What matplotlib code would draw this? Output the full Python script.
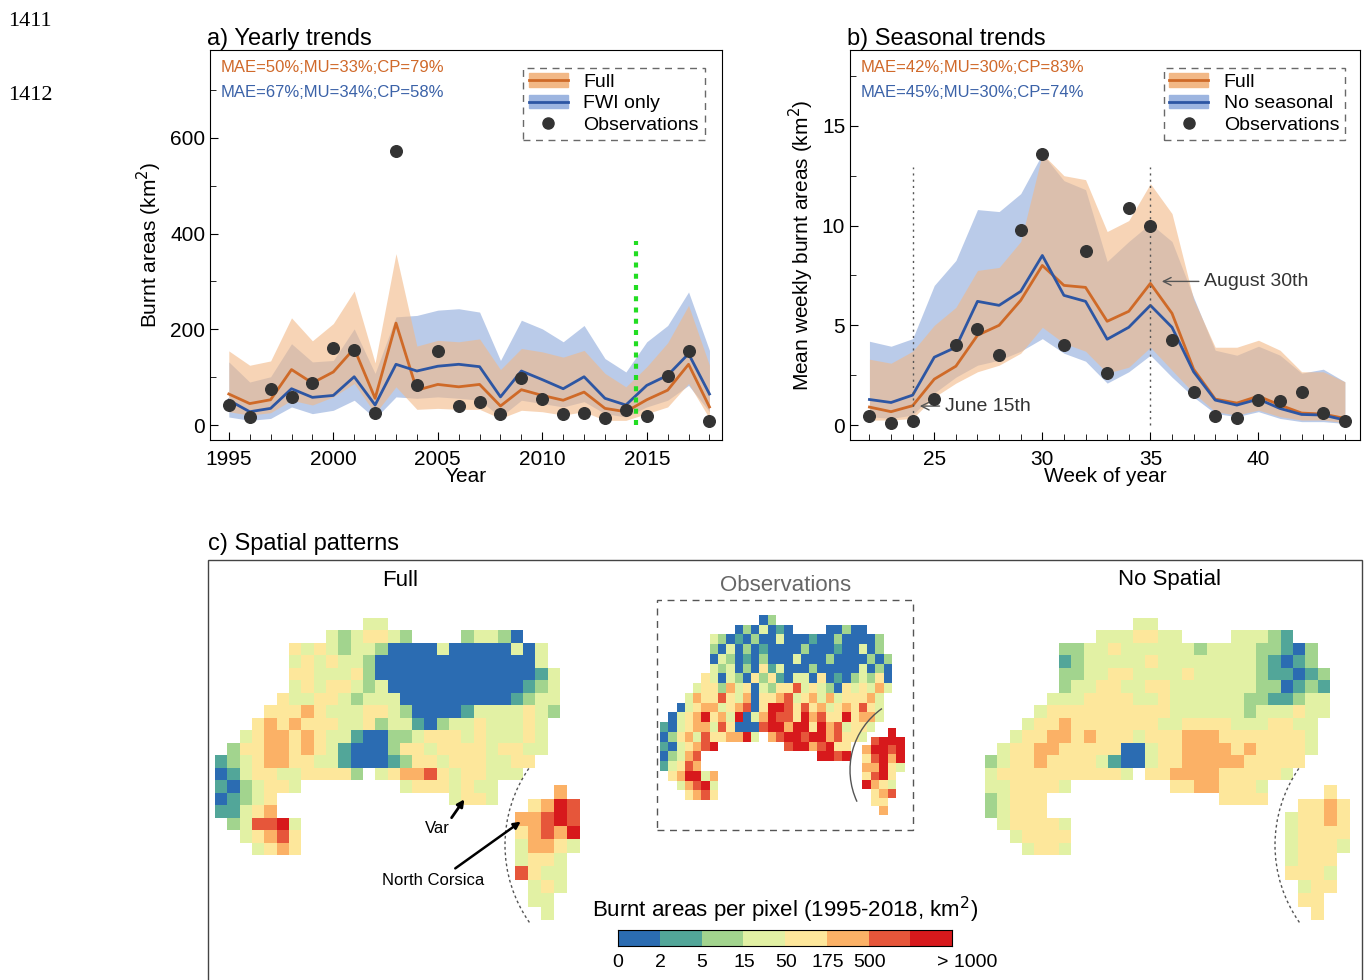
import numpy as np
import matplotlib
matplotlib.use("Agg")
import matplotlib.pyplot as plt
from matplotlib.patches import Patch, Rectangle, Arc
from matplotlib.lines import Line2D
from matplotlib.colors import ListedColormap, BoundaryNorm

# ---------------- data ----------------
years = list(range(1995, 2019))
obs_year = [42, 17, 75, 58, 88, 160, 156, 25, 573, 83, 154, 40, 48, 23, 98, 54, 23, 25, 15, 31, 19, 102, 154, 8]
full_year = [65, 45, 53, 116, 88, 111, 160, 56, 213, 73, 85, 80, 85, 40, 74, 62, 52, 69, 35, 28, 53, 73, 127, 38]
full_year_hi = [155, 125, 134, 224, 176, 212, 280, 130, 358, 165, 177, 174, 180, 116, 160, 153, 142, 156, 108, 80, 122, 172, 250, 125]
full_year_lo = [28, 21, 26, 52, 42, 59, 87, 24, 80, 33, 35, 33, 33, 14, 31, 28, 21, 28, 10, 10, 24, 38, 87, 14]
fwi_year = [52, 28, 35, 76, 58, 62, 101, 42, 127, 113, 123, 127, 122, 59, 113, 95, 76, 101, 56, 42, 83, 104, 149, 65]
fwi_year_hi = [132, 90, 101, 170, 132, 135, 201, 108, 226, 229, 240, 243, 236, 135, 219, 201, 174, 208, 139, 111, 174, 208, 278, 156]
fwi_year_lo = [17, 10, 14, 38, 24, 31, 52, 14, 59, 56, 59, 56, 52, 17, 52, 45, 38, 49, 24, 17, 38, 52, 83, 28]

weeks = list(range(22, 45))
obs_week = [0.47, 0.1, 0.2, 1.3, 4.0, 4.8, 3.5, 9.8, 13.6, 4.0, 8.7, 2.6, 10.9, 10.0, 4.25, 1.67, 0.47, 0.37, 1.25, 1.2, 1.67, 0.6, 0.2]
full_week = [0.9, 0.67, 0.97, 2.3, 2.95, 4.5, 5.0, 6.25, 8.0, 7.0, 6.9, 5.2, 5.7, 7.1, 5.6, 2.8, 1.3, 1.1, 1.45, 1.0, 0.6, 0.55, 0.33]
full_week_hi = [3.3, 3.1, 3.7, 5.0, 5.9, 7.75, 7.9, 9.2, 13.6, 12.5, 12.3, 9.7, 10.25, 12.1, 10.6, 6.3, 3.9, 3.9, 4.25, 3.75, 2.67, 2.67, 2.17]
full_week_lo = [0.25, 0.25, 0.33, 1.4, 2.1, 2.67, 3.0, 3.6, 4.9, 4.1, 3.7, 2.6, 2.9, 3.9, 2.75, 1.6, 0.67, 0.5, 0.75, 0.42, 0.25, 0.25, 0.12]
noseas_week = [1.28, 1.13, 1.5, 3.4, 3.9, 6.2, 6.0, 6.7, 8.5, 6.5, 6.2, 4.3, 4.9, 6.0, 4.9, 2.67, 1.25, 1.0, 1.3, 0.83, 0.53, 0.5, 0.25]
noseas_week_hi = [4.2, 3.95, 4.33, 7.0, 8.25, 10.8, 10.7, 11.6, 13.6, 12.25, 11.8, 8.2, 9.2, 10.1, 9.2, 6.4, 3.75, 3.5, 3.95, 3.5, 2.6, 2.8, 2.17]
noseas_week_lo = [0.42, 0.33, 0.5, 1.6, 2.4, 3.0, 3.25, 3.7, 4.33, 3.6, 3.2, 2.1, 2.67, 3.5, 2.4, 1.4, 0.58, 0.42, 0.67, 0.33, 0.17, 0.17, 0.08]

class_labels = ["0", "2", "5", "15", "50", "175", "500", "> 1000"]
class_colors = ["#2b6cb2", "#52a699", "#a2d48e", "#e2f1a4", "#fde79b", "#fbb166", "#e6563a", "#d7191c"]

map_full = [
    "............33",
    ".........3234432....23320",
    "......434323320000300000303",
    "......343433200000000000003",
    "......4433342000000000000013",
    "......3434432300000000000123",
    ".....43344323330000000001233",
    "....444543334432000013333432",
    "...454544433423310233433343",
    "..3455454331002234443433343",
    ".24455454310002443444434433",
    "12345544331000124434443344",
    "013443344442.345564344333",
    "1023443........34443433",
    "01234..............3443",
    "11345",
    ".236673",
    "..34564",
    "...3454",
]
cors_full = ["...5.", ".4576", "55676", "45657", "35543", "3443.", "6433.", ".343.", ".33..", "..3.."]

map_obs = [
    "............02",
    ".........0203010....00200",
    "......320102003000100200002",
    "......203020100002000100302",
    "......0320102000300020000202",
    "......3230204130002000003020",
    ".....43032042410330401023240",
    "....344253403244634320434353",
    "...354464350445634535344453",
    "..0345534560477646453454643",
    ".03457453703576647564474553",
    "10345536400067757747563443",
    "024536445573.567767756443",
    "1034567........67756744",
    "02356..............7767",
    "13465",
    ".457735",
    "..35673",
    "...4564",
]
cors_obs = ["...7.", ".6777", "57767", "46757", "55743", "4674.", "7543.", ".456.", ".44..", "..5.."]

map_nosp = [
    "............33",
    ".........3334433....33321",
    "......223343333332333322102",
    "......123333343333333321012",
    "......2233443333433333211012",
    "......2334433443333333220121",
    ".....33344443343333332211233",
    "....344444444443333332333433",
    "...344544444443344443334433",
    "..3445545444344455544444443",
    ".34455444440034455554544443",
    "23445444431003445555544444",
    "344444444443.445555444443",
    "3344443........44554443",
    "23444..............4444",
    "23444",
    ".344443",
    "..34444",
    "...3443",
]
cors_nosp = ["...4.", ".4454", "34454", "34444", "34443", "3444.", "4443.", ".344.", ".44..", "..4.."]

# ---------------- figure ----------------
W, H = 1367, 980
fig = plt.figure(figsize=(W / 100, H / 100), dpi=100)
plt.rcParams['font.family'] = ['Liberation Sans', 'DejaVu Sans']

def ax_px(x0, y0, x1, y1):
    return fig.add_axes([x0 / W, 1 - y1 / H, (x1 - x0) / W, (y1 - y0) / H])

ORL = "#cf6a28"; BLL = "#2d56a3"
ORF = "#f2b886"; BLF = "#9db5e0"
tcol_o = "#d0692a"; tcol_b = "#3b62a8"

fig.text(8 / W, 1 - 22 / H, "1411", fontsize=16, family="Liberation Serif", va="center")
fig.text(8 / W, 1 - 95 / H, "1412", fontsize=16, family="Liberation Serif", va="center")

def legend_handles():
    return [(Patch(color=ORF), Line2D([], [], color=ORL, lw=2)),
            (Patch(color=BLF), Line2D([], [], color=BLL, lw=2)),
            Line2D([], [], marker="o", ls="", color="#333333", ms=8)]

# Panel a
ax = ax_px(210, 50, 722, 440)
ax.fill_between(years, fwi_year_lo, fwi_year_hi, color=BLF, alpha=0.7, lw=0)
ax.fill_between(years, full_year_lo, full_year_hi, color=ORF, alpha=0.6, lw=0)
ax.plot(years, full_year, color=ORL, lw=2)
ax.plot(years, fwi_year, color=BLL, lw=2)
ax.scatter(years, obs_year, s=70, color="#333333", zorder=5)
ax.plot([2014.5, 2014.5], [0, 385], color="#22dd22", lw=3, ls=(0, (1.2, 1.5)))
ax.set_xlim(1994.1, 2018.6)
ax.set_ylim(-31, 783)
ax.set_yticks([0, 200, 400, 600])
ax.set_yticks(range(0, 800, 100), minor=True)
ax.set_xticks([1995, 2000, 2005, 2010, 2015])
ax.set_xticks(years, minor=True)
ax.tick_params(direction="in", labelsize=15, length=6)
ax.tick_params(axis="x", pad=7)
ax.tick_params(which="minor", direction="in", length=4)
ax.set_xlabel("Year", fontsize=15, labelpad=-1)
ax.set_ylabel("Burnt areas (km$^2$)", fontsize=15)
ax.set_title("a) Yearly trends", loc="left", fontsize=17, pad=3, x=-0.005)
ax.text(0.02, 0.955, "MAE=50%;MU=33%;CP=79%", color=tcol_o, fontsize=12, transform=ax.transAxes, va="center")
ax.text(0.02, 0.892, "MAE=67%;MU=34%;CP=58%", color=tcol_b, fontsize=12, transform=ax.transAxes, va="center")
leg = ax.legend(legend_handles(), ["Full", "FWI only", "Observations"], loc="upper right", fontsize=14,
                fancybox=False, edgecolor="#444444", handlelength=2, borderpad=0.3,
                labelspacing=0.2, bbox_to_anchor=(0.985, 0.98))
leg.get_frame().set_linestyle((0, (5, 4)))
leg.get_frame().set_linewidth(1)

# Panel b
bx = ax_px(850, 50, 1360, 440)
bx.fill_between(weeks, noseas_week_lo, noseas_week_hi, color=BLF, alpha=0.7, lw=0)
bx.fill_between(weeks, full_week_lo, full_week_hi, color=ORF, alpha=0.6, lw=0)
bx.plot(weeks, full_week, color=ORL, lw=2)
bx.plot(weeks, noseas_week, color=BLL, lw=2)
bx.scatter(weeks, obs_week, s=70, color="#333333", zorder=5)
for wk in (24, 35):
    bx.plot([wk, wk], [0, 12.95], color="#555555", lw=1, ls=(0, (1.5, 3)))
bx.annotate("June 15th", xy=(24.2, 0.95), xytext=(25.5, 0.95), fontsize=14, color="#333333",
            va="center", arrowprops=dict(arrowstyle="->", color="#555555", lw=1))
bx.annotate("August 30th", xy=(35.4, 7.2), xytext=(37.5, 7.2), fontsize=14, color="#333333",
            va="center", arrowprops=dict(arrowstyle="->", color="#555555", lw=1))
bx.set_xlim(21.1, 44.7)
bx.set_ylim(-0.75, 18.8)
bx.set_yticks([0, 5, 10, 15])
bx.set_yticks(np.arange(0, 18, 2.5), minor=True)
bx.set_xticks([25, 30, 35, 40])
bx.set_xticks(weeks, minor=True)
bx.tick_params(direction="in", labelsize=15, length=6)
bx.tick_params(axis="x", pad=7)
bx.tick_params(which="minor", direction="in", length=4)
bx.set_xlabel("Week of year", fontsize=15, labelpad=-1)
bx.set_ylabel("Mean weekly burnt areas (km$^2$)", fontsize=15)
bx.set_title("b) Seasonal trends", loc="left", fontsize=17, pad=3, x=-0.005)
bx.text(0.02, 0.955, "MAE=42%;MU=30%;CP=83%", color=tcol_o, fontsize=12, transform=bx.transAxes, va="center")
bx.text(0.02, 0.892, "MAE=45%;MU=30%;CP=74%", color=tcol_b, fontsize=12, transform=bx.transAxes, va="center")
leg2 = bx.legend(legend_handles(), ["Full", "No seasonal", "Observations"], loc="upper right", fontsize=14,
                 fancybox=False, edgecolor="#444444", handlelength=2, borderpad=0.3,
                 labelspacing=0.2, bbox_to_anchor=(0.99, 0.98))
leg2.get_frame().set_linestyle((0, (5, 4)))
leg2.get_frame().set_linewidth(1)

# Panel c
fig.add_artist(Rectangle((208 / W, -0.01), (1362 - 208) / W, 1 - 560 / H + 0.01,
                         transform=fig.transFigure, fill=False, ec="#444444", lw=1, clip_on=False))
fig.text(208 / W, 1 - 544 / H, "c) Spatial patterns", fontsize=17, va="center")

cmap = ListedColormap(class_colors)
norm = BoundaryNorm(np.arange(-0.5, 8.5, 1), cmap.N)

def grid_of(rows, ncol):
    arr = np.full((len(rows), ncol), np.nan)
    for i, r in enumerate(rows):
        for j, c in enumerate(r):
            if c != ".":
                arr[i, j] = int(c)
    return np.ma.masked_invalid(arr)

def draw_map(rows, ncol, box):
    a = ax_px(*box)
    g = grid_of(rows, ncol)
    a.pcolormesh(g, cmap=cmap, norm=norm, edgecolors="none")
    a.set_xlim(0, ncol); a.set_ylim(len(rows), 0)
    a.axis("off")
    return a

draw_map(map_full, 28, (215, 618, 560, 855))
draw_map(cors_full, 5, (515, 785, 580, 920))
draw_map(map_obs, 28, (660, 615, 892, 800))
draw_map(cors_obs, 5, (862, 728, 905, 815))
draw_map(map_nosp, 28, (985, 618, 1330, 855))
draw_map(cors_nosp, 5, (1285, 785, 1350, 920))

fig.text(400 / W, 1 - 580 / H, "Full", fontsize=16, ha="center", va="center")
fig.text(786 / W, 1 - 585 / H, "Observations", fontsize=16, ha="center", va="center", color="#666666")
fig.text(1170 / W, 1 - 580 / H, "No Spatial", fontsize=16, ha="center", va="center")
fig.add_artist(Rectangle((657 / W, 1 - 830 / H), 256 / W, 230 / H, transform=fig.transFigure,
                         fill=False, ec="#555555", lw=1, ls=(0, (5, 4))))

# arcs near Corsica
ov = fig.add_axes([0, 0, 1, 1]); ov.set_xlim(0, W); ov.set_ylim(H, 0); ov.axis("off")
ov.add_patch(Arc((640, 845), 270, 270, theta1=145, theta2=215, ls=(0, (2, 2)), color="#555555", lw=1))
ov.add_patch(Arc((925, 770), 150, 150, theta1=155, theta2=235, color="#555555", lw=1))
ov.add_patch(Arc((1410, 845), 270, 270, theta1=145, theta2=215, ls=(0, (2, 2)), color="#555555", lw=1))
ov.annotate("", xy=(466, 797), xytext=(450, 820), arrowprops=dict(arrowstyle="-|>", color="black", lw=2))
ov.text(437, 828, "Var", fontsize=12, ha="center", va="center")
ov.annotate("", xy=(523, 820), xytext=(453, 870), arrowprops=dict(arrowstyle="-|>", color="black", lw=1.8))
ov.text(433, 880, "North Corsica", fontsize=12, ha="center", va="center")
ov.text(785, 910, "Burnt areas per pixel (1995-2018, km$^2$)", fontsize=16, ha="center", va="center")

cb = ax_px(618, 930, 952, 946)
cb.pcolormesh(np.arange(9), [0, 1], np.arange(8)[None, :], cmap=cmap, norm=norm)
cb.set_xlim(0, 8); cb.set_ylim(0, 1)
cb.set_xticks([]); cb.set_yticks([])
for s in cb.spines.values():
    s.set_linewidth(0.8)
xs = [618, 660, 702, 744, 786, 828, 870, 967]
for xpx, lab in zip(xs, class_labels):
    ov.text(xpx, 962, lab, fontsize=14, ha="center", va="center")

fig.savefig("out.png", dpi=100)
